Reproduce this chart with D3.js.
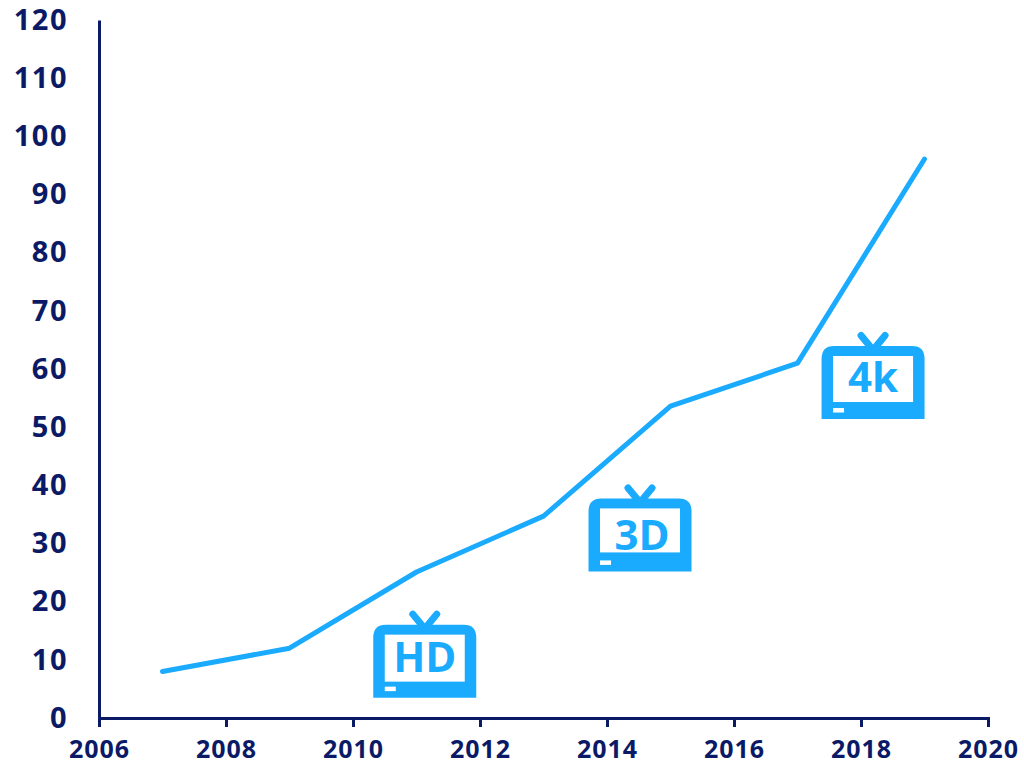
<!DOCTYPE html>
<html>
<head>
<meta charset="utf-8">
<script src="https://cdn.jsdelivr.net/npm/d3@7"></script>
<style>
  html, body { margin: 0; padding: 0; background: #fff; }
  svg { display: block; }
</style>
</head>
<body>
<div id="chart"></div>
<script>
const years = [2007, 2009, 2011, 2013, 2015, 2017, 2019];
const values = [8, 12, 25.1, 34.7, 53.6, 61, 96.1];
const xTicks = [2006, 2008, 2010, 2012, 2014, 2016, 2018, 2020];
const yTicks = [0, 10, 20, 30, 40, 50, 60, 70, 80, 90, 100, 110, 120];
const tvLabels = ["HD", "3D", "4k"];
const tvYears = [2011.13, 2014.52, 2018.19];
const tvBase = [3.5, 25.2, 51.4];

const width = 1024;
const height = 765;
const margin = {top: 20, right: 36, bottom: 47, left: 99};
const navy = "#0b1a66";
const blue = "#1aabff";
const font = "'Open Sans', sans-serif";

const svg = d3.select("#chart")
  .append("svg")
  .attr("width", width)
  .attr("height", height);

// scales
const x = d3.scaleLinear()
  .domain([2006, 2020])
  .range([margin.left, width - margin.right]);

const y = d3.scaleLinear()
  .domain([0, 120])
  .range([height - margin.bottom, margin.top]);

// X axis
const xAxis = svg.append("g")
  .attr("transform", `translate(0,${height - margin.bottom})`)
  .call(d3.axisBottom(x).tickValues(xTicks).tickFormat(d3.format("d")).tickSize(9).tickPadding(13));

// Y axis
const yAxis = svg.append("g")
  .attr("transform", `translate(${margin.left},0)`)
  .call(d3.axisLeft(y).tickValues(yTicks).tickSize(0).tickPadding(31));

xAxis.selectAll("text")
  .style("font-family", font)
  .style("font-weight", "bold")
  .style("font-size", "25px")
  .style("letter-spacing", "1px")
  .attr("fill", navy);

yAxis.selectAll("text")
  .style("font-family", font)
  .style("font-weight", "bold")
  .style("font-size", "29px")
  .style("letter-spacing", "1.5px")
  .attr("fill", navy);

svg.selectAll(".domain, .tick line")
  .attr("stroke", navy)
  .attr("stroke-width", 3);

// line
const line = d3.line()
  .x((d, i) => x(years[i]))
  .y(d => y(d));

svg.append("path")
  .datum(values)
  .attr("fill", "none")
  .attr("stroke", blue)
  .attr("stroke-width", 5)
  .attr("stroke-linecap", "round")
  .attr("stroke-linejoin", "round")
  .attr("d", line);

// tv icons, anchored at the bottom centre of each set
// the three sets differ a little in screen height and label placement
const screenBottom = [-16, -19, -17];
const labelDx = [0, 2, 0];
const labelDy = [-26, -21, -27];

const tv = svg.selectAll(".tv")
  .data(tvLabels)
  .enter()
  .append("g")
  .attr("class", "tv")
  .attr("transform", (d, i) => `translate(${x(tvYears[i])},${y(tvBase[i])})`);

tv.append("path")
  .attr("d", "M-51.5,0 V-60 Q-51.5,-73 -39,-73 H39 Q51.5,-73 51.5,-60 V0 Z")
  .attr("fill", blue);

tv.append("path")
  .attr("d", "M-12,-83.5 L0,-69 L12,-83.5")
  .attr("fill", "none")
  .attr("stroke", blue)
  .attr("stroke-width", 7)
  .attr("stroke-linecap", "round");

tv.append("rect")
  .attr("x", -40)
  .attr("y", -63)
  .attr("width", 80)
  .attr("height", (d, i) => 63 + screenBottom[i])
  .attr("fill", "#fff");

tv.append("rect")
  .attr("x", -40)
  .attr("y", -11)
  .attr("width", 11)
  .attr("height", 4.5)
  .attr("fill", "#fff");

tv.append("text")
  .attr("x", (d, i) => labelDx[i])
  .attr("y", (d, i) => labelDy[i])
  .attr("text-anchor", "middle")
  .style("font-family", font)
  .style("font-weight", "bold")
  .style("font-size", "42px")
  .attr("fill", blue)
  .text(d => d);
</script>
</body>
</html>
